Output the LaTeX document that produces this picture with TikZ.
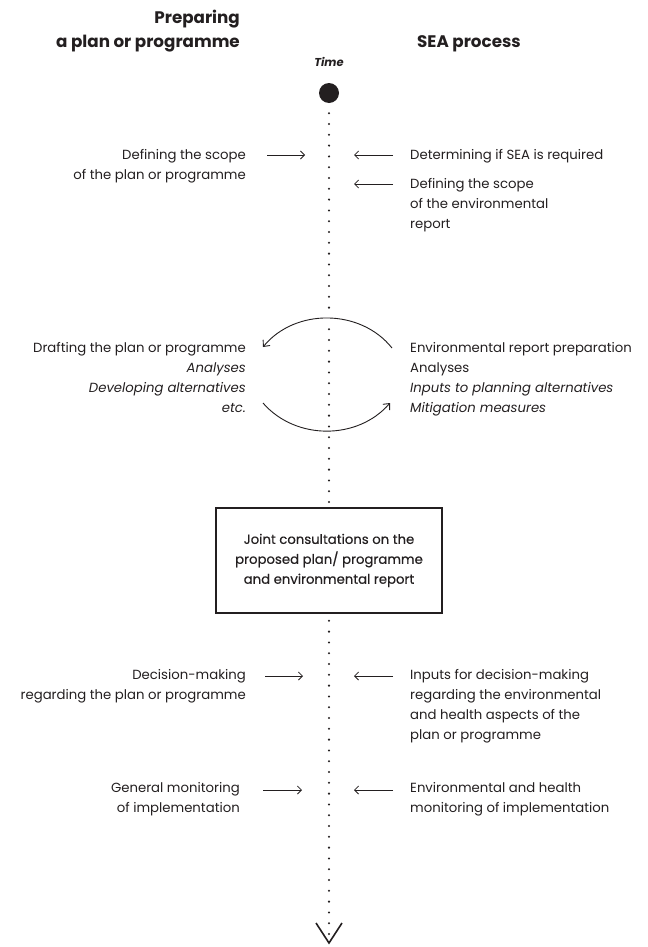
\documentclass[tikz,border=0pt]{standalone}
\usepackage{fontspec}
\setmainfont{Poppins}
\usetikzlibrary{arrows.meta}
\definecolor{ink}{HTML}{231F20}
\begin{document}
\begin{tikzpicture}[x=1bp,y=1bp,
  every node/.style={inner sep=0pt, text=ink},
  body/.style={font=\fontsize{13.3}{20}\selectfont},
  lefttext/.style={body, align=right, anchor=base east},
  righttext/.style={body, align=left, anchor=base west},
  head/.style={font=\bfseries\fontsize{16.8}{24}\selectfont},
  harrow/.style={draw=ink, line width=0.8bp, -{Straight Barb[length=4bp,width=8bp]}},
  cyclearc/.style={draw=ink, line width=0.9bp, -{Straight Barb[length=5bp,width=9bp]},
    preaction={draw=white, line width=5bp, arrows=-}},
  timeline/.style={draw=ink, line width=2.3bp, line cap=round, dash pattern=on 0bp off 10.8bp},
  vshape/.style={draw=ink, line width=1.6bp, line join=miter},
  jointbox/.style={draw=ink, fill=white, line width=1.1bp, minimum width=226bp,
    minimum height=105bp, align=center, font=\fontsize{13.3}{20}\selectfont\addfontfeature{FakeBold=0.4}},
  startdot/.style={circle, fill=ink, minimum size=20bp, inner sep=0pt}
]
\useasboundingbox (0,0) rectangle (648,-947);

% headings (anchor base = baseline of the last line)
\node[head, align=right, anchor=base east] (hleft) at (240,-47.5) {Preparing\\a plan or programme};
\node[head, anchor=base west] (hright) at (417,-47.5) {SEA process};
\node[font=\bfseries\itshape\fontsize{11.5}{13}\selectfont] (time) at (329,-62) {Time};

% time line
\node[startdot] (dot) at (329,-93) {};
\coordinate (tend) at (329,-943);
\draw[timeline] ([yshift=-10bp]dot.south) -- (tend);
\draw[vshape] ([shift={(-13,20)}]tend) -- (tend) -- ([shift={(13,20)}]tend);

% row 1
\node[lefttext] (scopeplan) at (246,-179) {Defining the scope\\of the plan or programme};
\node[righttext] (seareq) at (410,-159) {Determining if SEA is required};
\node[righttext] (scopeenv) at (410,-228) {Defining the scope\\of the environmental\\report};
\coordinate (a1s) at (267,-155); \coordinate (a1e) at (305,-155);
\coordinate (a2s) at (393,-155); \coordinate (a2e) at (354,-155);
\coordinate (a3s) at (393,-184); \coordinate (a3e) at (354,-184);
\draw[harrow] (a1s) -- (a1e);
\draw[harrow] (a2s) -- (a2e);
\draw[harrow] (a3s) -- (a3e);

% cycle
\node[lefttext] (drafting) at (246,-412) {Drafting the plan or programme\\\textit{Analyses}\\\textit{Developing alternatives}\\\textit{etc.}};
\node[righttext] (envrep) at (410,-412) {Environmental report preparation\\Analyses\\\textit{Inputs to planning alternatives}\\\textit{Mitigation measures}};
\coordinate (atr) at (392,-348); \coordinate (atl) at (263,-347);
\coordinate (abl) at (263,-403); \coordinate (abr) at (390,-403);
\draw[cyclearc] (atr) to[bend right=51] (atl);
\draw[cyclearc] (abl) to[bend right=49] (abr);

% joint consultations
\node[jointbox] (joint) at (329,-560.5) {Joint consultations on the\\proposed plan/ programme\\and environmental report};

% decision
\node[lefttext] (decision) at (246,-699) {Decision-making\\regarding the plan or programme};
\node[righttext] (inputs) at (410,-739) {Inputs for decision-making\\regarding the environmental\\and health aspects of the\\plan or programme};
\coordinate (d1s) at (265,-676); \coordinate (d1e) at (303,-676);
\coordinate (d2s) at (393,-676); \coordinate (d2e) at (354,-676);
\draw[harrow] (d1s) -- (d1e);
\draw[harrow] (d2s) -- (d2e);

% monitoring
\node[lefttext] (genmon) at (240,-812) {General monitoring\\of implementation};
\node[righttext] (envmon) at (410,-812) {Environmental and health\\monitoring of implementation};
\coordinate (m1s) at (263,-790); \coordinate (m1e) at (302,-790);
\coordinate (m2s) at (393,-790); \coordinate (m2e) at (354,-790);
\draw[harrow] (m1s) -- (m1e);
\draw[harrow] (m2s) -- (m2e);
\end{tikzpicture}
\end{document}
